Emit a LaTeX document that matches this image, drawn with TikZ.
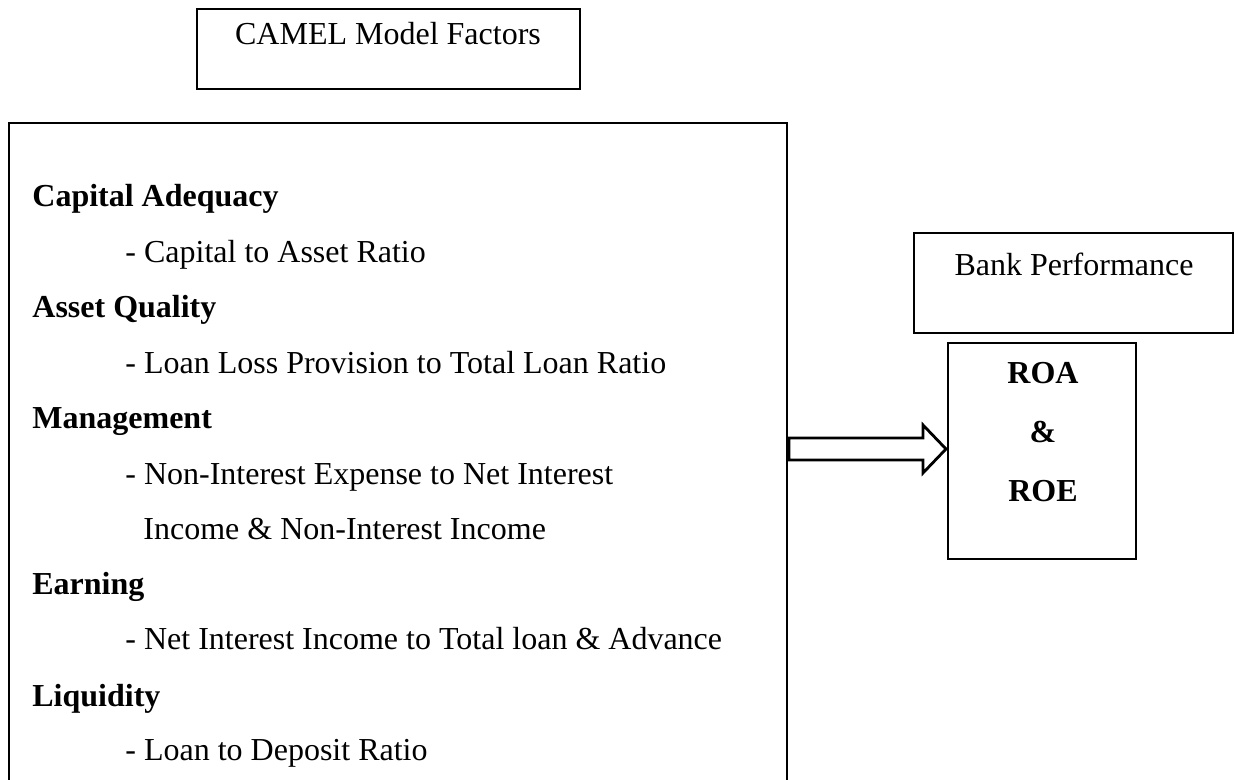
\documentclass[tikz,border=0pt]{standalone}
\usepackage{fontspec}
\setmainfont{Liberation Serif}
\usetikzlibrary{calc,fit}
\begin{document}
\begin{tikzpicture}[x=0.5pt,y=-0.5pt,
  box/.style={draw, line width=1.4pt, inner sep=0pt, outer sep=0pt},
  txt/.style={inner sep=0pt, anchor=base west, font=\fontsize{16}{19}\selectfont},
  head/.style={txt, font=\fontsize{16}{19}\selectfont\bfseries},
  ctxt/.style={inner sep=0pt, anchor=base, font=\fontsize{16}{19}\selectfont},
  cbold/.style={ctxt, font=\fontsize{16}{19}\selectfont\bfseries},
  hollow/.style={draw, line width=1.4pt, fill=white, line join=miter}]
\clip (0,0) rectangle (1238,780);
\fill[white] (0,0) rectangle (1238,780);
% boxes
\node[box, fit={(197,9) (580,89)}] (camel) {};
\node[box, fit={(9,123) (787,830)}] (factors) {};
\node[box, fit={(914,233) (1233,333)}] (bank) {};
\node[box, fit={(948,343) (1136,559)}] (roa) {};
% box titles
\node[ctxt] (camelT) at (388,45) {CAMEL Model Factors};
\node[ctxt] (bankT) at (1074,276) {Bank Performance};
\node[cbold] (roaT) at (1043,384) {ROA};
\node[cbold] (ampT) at (1043,443) {\&};
\node[cbold] (roeT) at (1043,502) {ROE};
% factor list
\node[head] (h1) at (32,207) {Capital Adequacy};
\node[txt]  (s1) at (125,263) {- Capital to Asset Ratio};
\node[head] (h2) at (32,318) {Asset Quality};
\node[txt]  (s2) at (125,374) {- Loan Loss Provision to Total Loan Ratio};
\node[head] (h3) at (32,429) {Management};
\node[txt]  (s3) at (125,485) {- Non-Interest Expense to Net Interest};
\node[txt]  (s3b) at (143,540) {Income \& Non-Interest Income};
\node[head] (h4) at (32,595) {Earning};
\node[txt]  (s4) at (125,650) {- Net Interest Income to Total loan \& Advance};
\node[head] (h5) at (32,706) {Liquidity};
\node[txt]  (s5) at (125,761) {- Loan to Deposit Ratio};
% block arrow
\coordinate (s) at ($(factors.east |- 0,449)+(2,0)$);
\coordinate (t) at ($(roa.west |- s)+(-2,0)$);
\draw[hollow] ($(s)+(0,-11)$) -- ($(t)+(-23,-11)$) -- ($(t)+(-23,-24)$) -- (t)
  -- ($(t)+(-23,24)$) -- ($(t)+(-23,11)$) -- ($(s)+(0,11)$) -- cycle;
\end{tikzpicture}
\end{document}
